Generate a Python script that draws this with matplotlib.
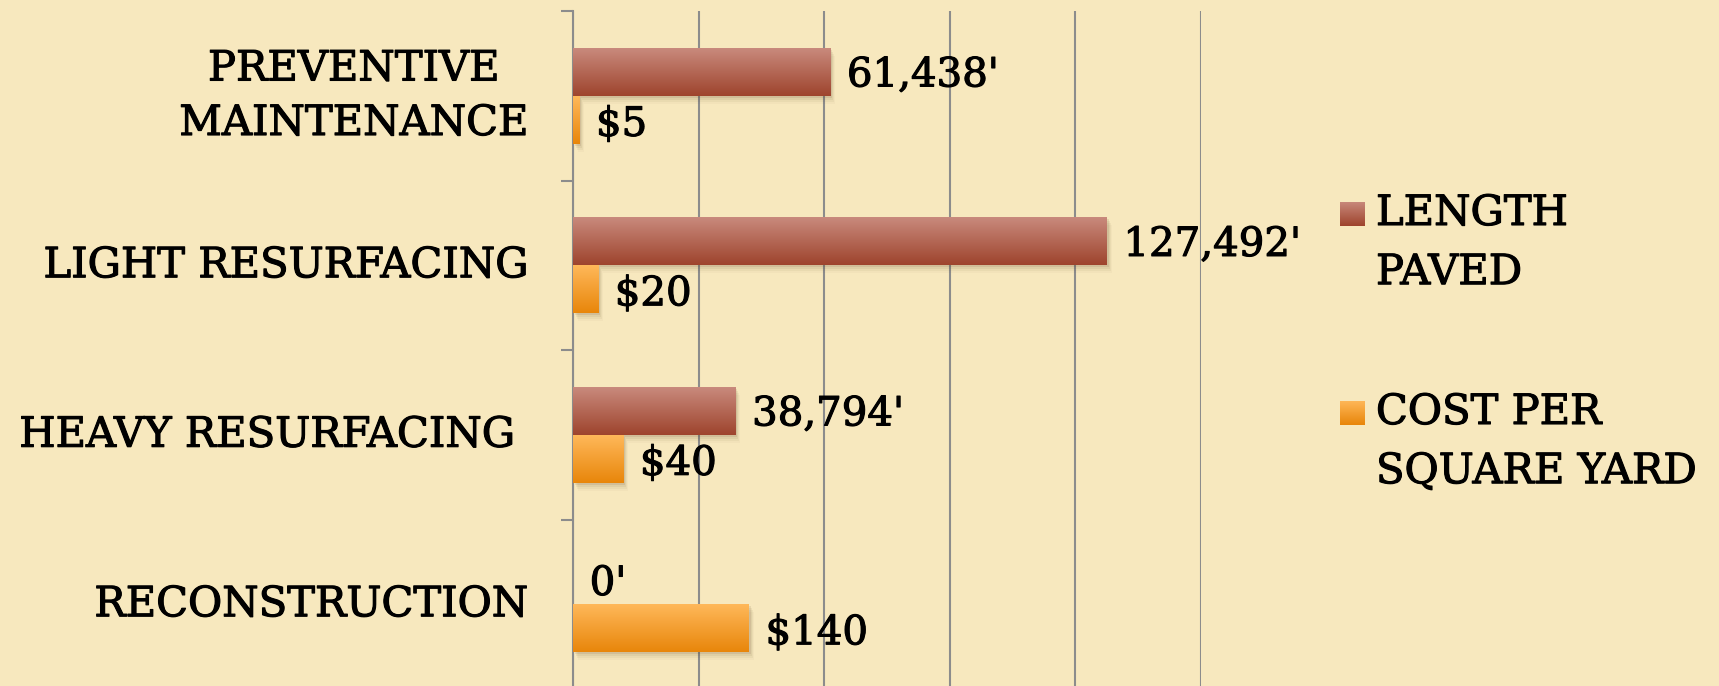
import matplotlib
matplotlib.use("Agg")
import matplotlib.pyplot as plt
import numpy as np
from matplotlib.colors import LinearSegmentedColormap
from matplotlib.patches import Rectangle
import matplotlib.transforms as mtransforms
import matplotlib.patheffects as pe

# ---- data ----
categories = ["PREVENTIVE\nMAINTENANCE", "LIGHT RESURFACING", "HEAVY RESURFACING ", "RECONSTRUCTION"]
length_paved = [61438, 127492, 38794, 0]
cost_per_sqyd = [5, 20, 40, 140]
series_names = ["LENGTH\nPAVED", "COST PER\nSQUARE YARD"]
length_labels = [f"{v:,}'" for v in length_paved]
cost_labels = [f"${v}" for v in cost_per_sqyd]

# ---- style ----
BG = "#F7E8BE"
GRID = "#8C8C8C"
LEN_TOP, LEN_BOT = "#C98A7D", "#9E442D"
COST_TOP, COST_BOT = "#FFB85A", "#E8860A"
FONT = "DejaVu Serif"
THICK = [pe.withStroke(linewidth=0.8, foreground="black")]

W, H = 1719, 686
fig = plt.figure(figsize=(W / 100, H / 100), dpi=100, facecolor=BG)
ax = fig.add_axes([573 / W, (H - 689) / H, (1201 - 573) / W, (689 - 11) / H])
ax.set_facecolor(BG)
ax2 = ax.twiny()

y = np.arange(len(categories))
bh = 0.283


def gradient_bar(a, rect, top, bot):
    x0, y0 = rect.get_x(), rect.get_y()
    w, h = rect.get_width(), rect.get_height()
    rect.set_facecolor("none")
    rect.set_edgecolor("none")
    if w <= 0:
        return
    # soft shadow
    for dx, dy, al in [(2, -2, 0.10), (3, -4, 0.07), (4, -6, 0.05), (5, -8, 0.03)]:
        tr = mtransforms.offset_copy(a.transData, fig=fig, x=dx, y=dy, units="dots")
        a.add_patch(Rectangle((x0, y0), w, h, transform=tr, facecolor="#5a4020",
                              alpha=al, edgecolor="none", zorder=2))
    cmap = LinearSegmentedColormap.from_list("g", [top, bot])
    grad = np.linspace(0, 1, 256).reshape(-1, 1)
    im = a.imshow(grad, cmap=cmap, extent=[x0, x0 + w, y0 + h, y0], aspect="auto",
                  origin="upper", zorder=3, interpolation="bicubic")
    im.set_clip_path(rect)


bars_len = ax.barh(y - bh / 2, length_paved, height=bh, zorder=3)
bars_cost = ax2.barh(y + bh / 2, cost_per_sqyd, height=bh, zorder=3)
for r in bars_len:
    gradient_bar(ax, r, LEN_TOP, LEN_BOT)
for r in bars_cost:
    gradient_bar(ax2, r, COST_TOP, COST_BOT)

ax.set_xlim(0, 150000)
ax2.set_xlim(0, 500)
ax.set_ylim(3.5, -0.5)

# grid / axes
ax.set_xticks(np.arange(0, 150001, 30000))
ax.grid(axis="x", color=GRID, lw=1.5, zorder=0)
ax.set_axisbelow(True)
ax.tick_params(axis="x", length=0, labelbottom=False, labeltop=False)
ax2.tick_params(axis="x", length=0, labelbottom=False, labeltop=False)
ax2.set_xticks([])
ax.set_yticks(np.arange(-0.5, len(categories), 1.0))
ax.set_yticklabels([])
ax.tick_params(axis="y", direction="out", length=9, width=1.5, color=GRID)
for s in ["top", "right", "bottom"]:
    ax.spines[s].set_visible(False)
for s in ax2.spines.values():
    s.set_visible(False)
ax.spines["left"].set_color(GRID)
ax.spines["left"].set_linewidth(1.5)

# category labels
ytr = ax.get_yaxis_transform()
for yi, c in zip(y, categories):
    ax.text(-45 / 628, yi, c, transform=ytr, ha="right", va="center", multialignment="center",
            fontsize=30, family=FONT, linespacing=1.38, color="black", path_effects=THICK)

# value labels
for yi, v, t in zip(y, length_paved, length_labels):
    ax.annotate(t, xy=(v, yi - bh / 2), xytext=(12, -3), textcoords="offset points",
                ha="left", va="center", fontsize=29, family=FONT, zorder=5, path_effects=THICK)
for yi, v, t in zip(y, cost_per_sqyd, cost_labels):
    ax2.annotate(t, xy=(v, yi + bh / 2), xytext=(12, -4), textcoords="offset points",
                 ha="left", va="center", fontsize=29, family=FONT, zorder=5, path_effects=THICK)

# legend (manual)
leg_cols = [(LEN_TOP, LEN_BOT), (COST_TOP, COST_BOT)]
leg_sq_y = [214, 413]
leg_txt_top = [192, 391]
for (top, bot), sy, ty, name in zip(leg_cols, leg_sq_y, leg_txt_top, series_names):
    sq = fig.add_axes([1340 / W, (H - sy - 12.5) / H, 25 / W, 25 / H])
    sq.imshow(np.linspace(0, 1, 64).reshape(-1, 1),
              cmap=LinearSegmentedColormap.from_list("g", [top, bot]), aspect="auto")
    sq.axis("off")
    fig.text(1376 / W, (H - ty) / H, name, ha="left", va="top", fontsize=30, family=FONT,
             linespacing=1.52, path_effects=THICK)

fig.savefig("out.png", dpi=100, facecolor=BG)
